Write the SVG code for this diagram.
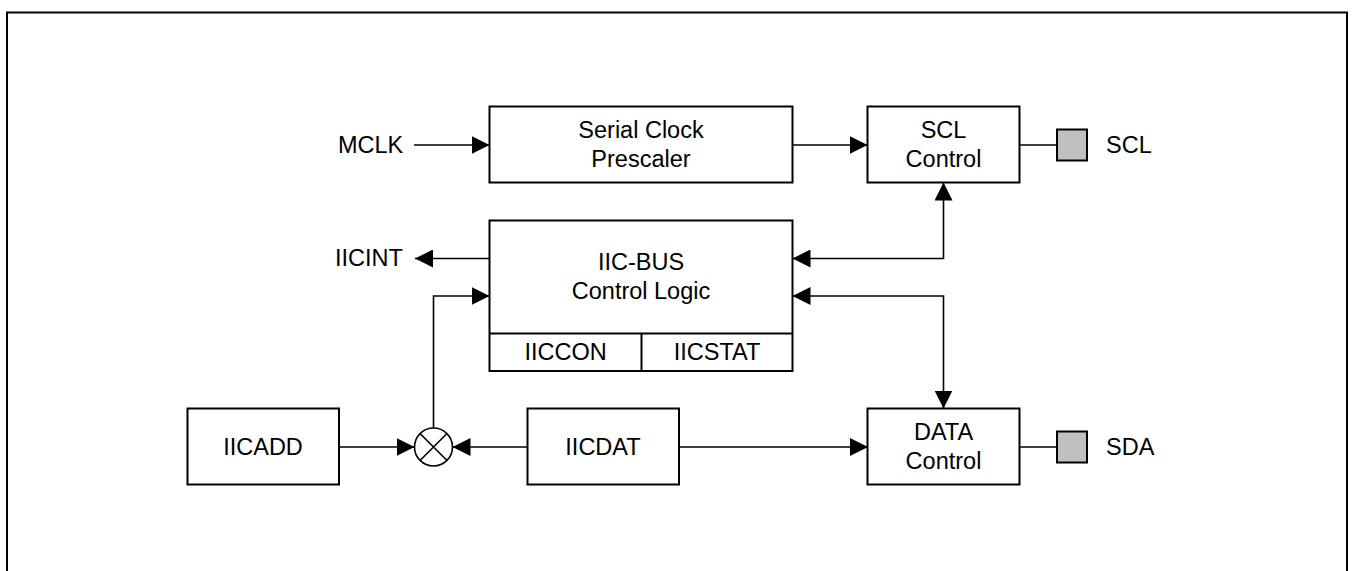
<svg xmlns="http://www.w3.org/2000/svg" width="1352" height="571" viewBox="0 0 1352 571">
<style>
.box{fill:#fff;stroke:#000;stroke-width:2}
.pad{fill:#c0c0c0;stroke:#000;stroke-width:2}
.ln{fill:none;stroke:#000;stroke-width:1.6}
text{font-family:"Liberation Sans",Arial,sans-serif;font-size:23.5px;fill:#000}
.c{text-anchor:middle}
</style>
<defs>
<marker id="ah" markerUnits="userSpaceOnUse" markerWidth="18" markerHeight="18" viewBox="0 0 17 17" refX="17" refY="8.5" orient="auto-start-reverse">
<path d="M0,0 L17,8.5 L0,17 z" fill="#000"/>
</marker>
</defs>
<rect x="7" y="12.5" width="1340" height="600" fill="none" stroke="#000" stroke-width="2"/>

<g id="connectors">
<path class="ln" d="M414,145 H489.5" marker-end="url(#ah)"/>
<path class="ln" d="M792.5,145 H867.5" marker-end="url(#ah)"/>
<path class="ln" d="M1019.5,145 H1057"/>
<path class="ln" d="M489.5,258.5 H415" marker-end="url(#ah)"/>
<path class="ln" d="M792.5,258.5 H943.5 V182.5" marker-start="url(#ah)" marker-end="url(#ah)"/>
<path class="ln" d="M792.5,296 H943.5 V408.5" marker-start="url(#ah)" marker-end="url(#ah)"/>
<path class="ln" d="M339,447 H414.5" marker-end="url(#ah)"/>
<path class="ln" d="M527.5,447 H452.5" marker-end="url(#ah)"/>
<path class="ln" d="M433.5,428 V296 H489.5" marker-end="url(#ah)"/>
<path class="ln" d="M679,447 H868" marker-end="url(#ah)"/>
<path class="ln" d="M1019.5,447 H1057"/>
</g>

<g id="mclk"><text x="338" y="152.5">MCLK</text></g>
<g id="iicint"><text x="335" y="266">IICINT</text></g>

<g id="prescaler">
<rect class="box" x="489.5" y="106.5" width="303" height="76"/>
<text class="c" x="641" y="137.5">Serial Clock</text>
<text class="c" x="641" y="166.5">Prescaler</text>
</g>

<g id="scl-control">
<rect class="box" x="867.5" y="106.5" width="152" height="76"/>
<text class="c" x="943.5" y="137.5">SCL</text>
<text class="c" x="943.5" y="166.5">Control</text>
</g>

<g id="scl-pad">
<rect class="pad" x="1057" y="129.5" width="30" height="31"/>
<text x="1106" y="152.5">SCL</text>
</g>

<g id="iic-bus">
<rect class="box" x="489.5" y="220.5" width="303" height="150.5"/>
<line x1="489.5" y1="333.5" x2="792.5" y2="333.5" stroke="#000" stroke-width="2"/>
<line x1="641.5" y1="333.5" x2="641.5" y2="371" stroke="#000" stroke-width="2"/>
<text class="c" x="641" y="270">IIC-BUS</text>
<text class="c" x="641" y="298.5">Control Logic</text>
<text class="c" x="565.5" y="359.5">IICCON</text>
<text class="c" x="717" y="359.5">IICSTAT</text>
</g>

<g id="iicadd">
<rect class="box" x="187.5" y="408.5" width="151.5" height="76"/>
<text class="c" x="263" y="455">IICADD</text>
</g>

<g id="mux">
<circle cx="433.5" cy="447" r="19" fill="#fff" stroke="#000" stroke-width="1.6"/>
<path d="M420,433.5 L447,460.5 M447,433.5 L420,460.5" stroke="#000" stroke-width="1.6"/>
</g>

<g id="iicdat">
<rect class="box" x="527.5" y="408.5" width="151.5" height="76"/>
<text class="c" x="603" y="455">IICDAT</text>
</g>

<g id="data-control">
<rect class="box" x="867.5" y="408.5" width="152" height="76"/>
<text class="c" x="943.5" y="439.5">DATA</text>
<text class="c" x="943.5" y="468.5">Control</text>
</g>

<g id="sda-pad">
<rect class="pad" x="1057" y="431.5" width="30" height="31"/>
<text x="1106" y="454.5">SDA</text>
</g>
</svg>
